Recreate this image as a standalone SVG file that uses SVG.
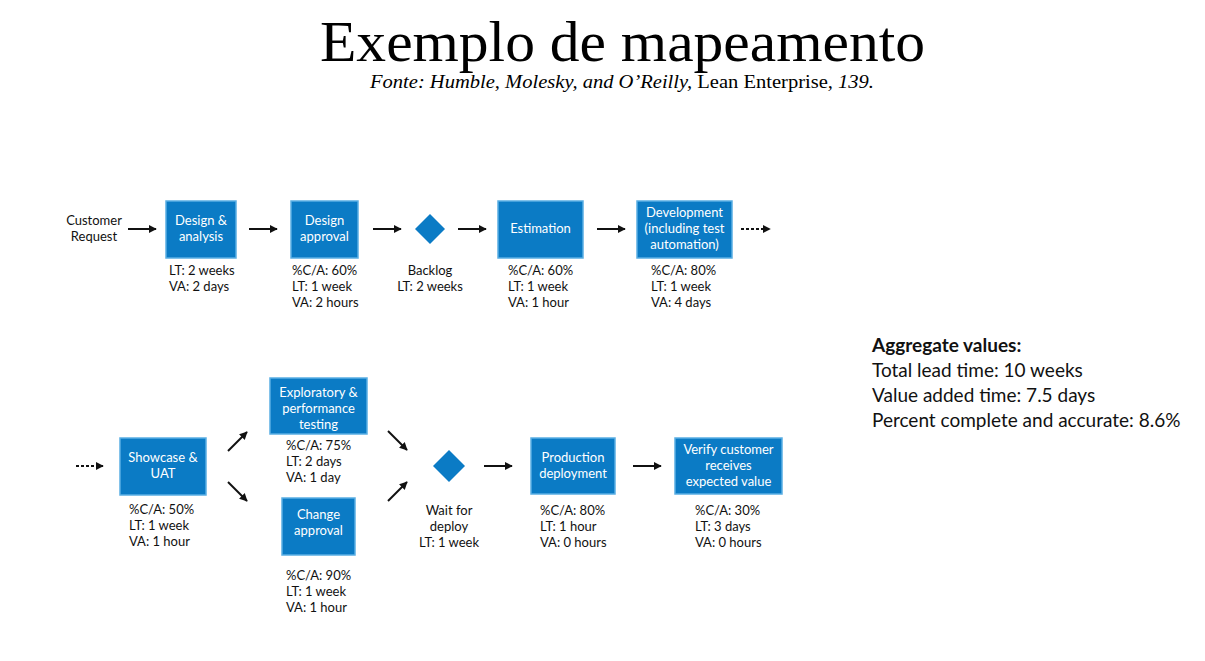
<svg xmlns="http://www.w3.org/2000/svg" width="1205" height="661" viewBox="0 0 1205 661">
<style>
.box{fill:#0b7bc5;stroke:#5aaee3;stroke-width:1.5}
.dia{fill:#0b7bc5}
.bt{font-family:Lato,"Noto Sans",sans-serif;font-size:13px;fill:#ffffff;text-anchor:middle}
.lt{font-family:Lato,"Noto Sans",sans-serif;font-size:13px;fill:#111111}
.ltc{font-family:Lato,"Noto Sans",sans-serif;font-size:13px;fill:#111111;text-anchor:middle}
.ag{font-family:Lato,"Noto Sans",sans-serif;font-size:19px;fill:#111111}
.ar{stroke:#111;stroke-width:2;fill:none;marker-end:url(#ah)}
.da{stroke:#111;stroke-width:2;fill:none;stroke-dasharray:3,2;marker-end:url(#ah)}
</style>
<defs>
<marker id="ah" viewBox="0 0 10 10" refX="9" refY="5" markerWidth="4" markerHeight="4" orient="auto" markerUnits="strokeWidth">
<path d="M0,0 L10,5 L0,10 z" fill="#111"/>
</marker>
</defs>
<rect width="1205" height="661" fill="#ffffff"/>
<g id="title">
<text x="320" y="61" font-family="'Liberation Serif',serif" font-size="56" fill="#000" textLength="605" lengthAdjust="spacingAndGlyphs">Exemplo de mapeamento</text>
<text x="370" y="88" font-family="'Liberation Serif',serif" font-size="19" fill="#000" textLength="504" lengthAdjust="spacingAndGlyphs"><tspan font-style="italic">Fonte: Humble, Molesky, and O’Reilly,</tspan> Lean Enterprise<tspan font-style="italic">, 139.</tspan></text>
</g>
<g id="connectors">
<line class="ar" x1="128" y1="229" x2="156" y2="229"/>
<line class="ar" x1="249" y1="229" x2="277" y2="229"/>
<line class="ar" x1="373" y1="229" x2="401" y2="229"/>
<line class="ar" x1="458" y1="229" x2="486" y2="229"/>
<line class="ar" x1="597" y1="229" x2="625" y2="229"/>
<line class="da" x1="741" y1="229" x2="770" y2="229"/>
<line class="da" x1="76" y1="466" x2="103" y2="466"/>
<line class="ar" x1="228" y1="451" x2="247" y2="432"/>
<line class="ar" x1="228" y1="482" x2="247" y2="501"/>
<line class="ar" x1="388" y1="431" x2="407" y2="450"/>
<line class="ar" x1="388" y1="501" x2="407" y2="482"/>
<line class="ar" x1="484" y1="466" x2="512" y2="466"/>
<line class="ar" x1="633" y1="466" x2="661" y2="466"/>
</g>
<g id="customer-request">
<text class="ltc" x="94" y="225">Customer</text>
<text class="ltc" x="94" y="241">Request</text>
</g>
<g id="design-analysis">
<rect class="box" x="166" y="201" width="70" height="57"/>
<text class="bt" x="201" y="225">Design &amp;</text>
<text class="bt" x="201" y="241">analysis</text>
<text class="lt" x="169" y="275">LT: 2 weeks</text>
<text class="lt" x="169" y="291">VA: 2 days</text>
</g>
<g id="design-approval">
<rect class="box" x="291" y="201" width="67" height="57"/>
<text class="bt" x="324.5" y="225">Design</text>
<text class="bt" x="324.5" y="241">approval</text>
<text class="lt" x="292" y="275">%C/A: 60%</text>
<text class="lt" x="292" y="291">LT: 1 week</text>
<text class="lt" x="292" y="307">VA: 2 hours</text>
</g>
<g id="backlog">
<path class="dia" d="M430,214 L445,229 L430,244 L415,229 z"/>
<text class="ltc" x="430" y="275">Backlog</text>
<text class="ltc" x="430" y="291">LT: 2 weeks</text>
</g>
<g id="estimation">
<rect class="box" x="498" y="201" width="85" height="57"/>
<text class="bt" x="540.5" y="233">Estimation</text>
<text class="lt" x="508" y="275">%C/A: 60%</text>
<text class="lt" x="508" y="291">LT: 1 week</text>
<text class="lt" x="508" y="307">VA: 1 hour</text>
</g>
<g id="development">
<rect class="box" x="637" y="201" width="95" height="57"/>
<text class="bt" x="684.5" y="217">Development</text>
<text class="bt" x="684.5" y="233">(including test</text>
<text class="bt" x="684.5" y="249">automation)</text>
<text class="lt" x="651" y="275">%C/A: 80%</text>
<text class="lt" x="651" y="291">LT: 1 week</text>
<text class="lt" x="651" y="307">VA: 4 days</text>
</g>
<g id="showcase">
<rect class="box" x="120" y="438" width="86" height="57"/>
<text class="bt" x="163" y="462">Showcase &amp;</text>
<text class="bt" x="163" y="478">UAT</text>
<text class="lt" x="129" y="514">%C/A: 50%</text>
<text class="lt" x="129" y="530">LT: 1 week</text>
<text class="lt" x="129" y="546">VA: 1 hour</text>
</g>
<g id="exploratory">
<rect class="box" x="270" y="378" width="97" height="56"/>
<text class="bt" x="318.5" y="397">Exploratory &amp;</text>
<text class="bt" x="318.5" y="413">performance</text>
<text class="bt" x="318.5" y="429">testing</text>
<text class="lt" x="286" y="450">%C/A: 75%</text>
<text class="lt" x="286" y="466">LT: 2 days</text>
<text class="lt" x="286" y="482">VA: 1 day</text>
</g>
<g id="change-approval">
<rect class="box" x="282" y="498" width="73" height="57"/>
<text class="bt" x="318.5" y="519">Change</text>
<text class="bt" x="318.5" y="535">approval</text>
<text class="lt" x="286" y="580">%C/A: 90%</text>
<text class="lt" x="286" y="596">LT: 1 week</text>
<text class="lt" x="286" y="612">VA: 1 hour</text>
</g>
<g id="wait-deploy">
<path class="dia" d="M449,450 L465,466 L449,482 L433,466 z"/>
<text class="ltc" x="449" y="515">Wait for</text>
<text class="ltc" x="449" y="531">deploy</text>
<text class="ltc" x="449" y="547">LT: 1 week</text>
</g>
<g id="production">
<rect class="box" x="531" y="438" width="84" height="56"/>
<text class="bt" x="573" y="462">Production</text>
<text class="bt" x="573" y="478">deployment</text>
<text class="lt" x="540" y="515">%C/A: 80%</text>
<text class="lt" x="540" y="531">LT: 1 hour</text>
<text class="lt" x="540" y="547">VA: 0 hours</text>
</g>
<g id="verify">
<rect class="box" x="675" y="438" width="107" height="56"/>
<text class="bt" x="728.5" y="454">Verify customer</text>
<text class="bt" x="728.5" y="470">receives</text>
<text class="bt" x="728.5" y="486">expected value</text>
<text class="lt" x="695" y="515">%C/A: 30%</text>
<text class="lt" x="695" y="531">LT: 3 days</text>
<text class="lt" x="695" y="547">VA: 0 hours</text>
</g>
<g id="aggregate">
<text class="ag" x="872" y="352" font-weight="bold">Aggregate values:</text>
<text class="ag" x="872" y="377">Total lead time: 10 weeks</text>
<text class="ag" x="872" y="402">Value added time: 7.5 days</text>
<text class="ag" x="872" y="427">Percent complete and accurate: 8.6%</text>
</g>
</svg>
